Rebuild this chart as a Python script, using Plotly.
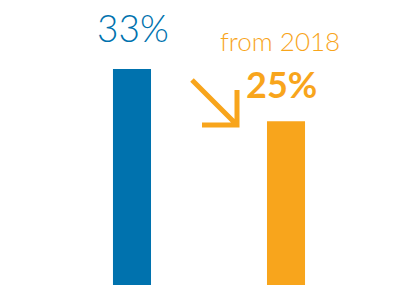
import plotly.graph_objects as go

categories = ["2018", "Now"]
values = [33, 25]
labels = ["33%", "25%"]
colors = ["#0072AE", "#F8A51C"]
note_text = "from 2018"

# page has 8px body margin; figure sized to fit window
OFF = 8
W, H = 412 - OFF, 285 - OFF
x_range = [-0.805, 1.818]
y_range = [0, 42.3]

def px_to_x(px):
    return x_range[0] + (px - OFF) / W * (x_range[1] - x_range[0])

def py_to_y(py):
    return y_range[1] - (py - OFF) / H * (y_range[1] - y_range[0])

fig = go.Figure()
fig.add_trace(go.Bar(
    x=[0, 1], y=values, marker=dict(color=colors, line=dict(width=0)),
    width=0.247, hoverinfo="skip",
))

fig.add_annotation(x=0, y=values[0], text=labels[0], showarrow=False,
                   yanchor="bottom", yshift=17, xshift=1,
                   font=dict(family="Lato", size=37, color=colors[0], weight=300))
fig.add_annotation(x=1, y=values[1], text="<b>" + labels[1] + "</b>", showarrow=False,
                   yanchor="bottom", yshift=13, xshift=-5,
                   font=dict(family="Lato", size=36, color=colors[1]))
fig.add_annotation(x=1, y=values[1], text=note_text, showarrow=False,
                   yanchor="bottom", yshift=62, xshift=-6,
                   font=dict(family="Lato", size=26, color=colors[1], weight=300))

# decorative arrow
path = (f"M {px_to_x(192)},{py_to_y(80)} L {px_to_x(236)},{py_to_y(124)} "
        f"M {px_to_x(202)},{py_to_y(125)} L {px_to_x(237)},{py_to_y(125)} L {px_to_x(237)},{py_to_y(90)}")
fig.add_shape(type="path", path=path, xref="x", yref="y",
              line=dict(color=colors[1], width=5))

fig.update_layout(
    width=W, height=H, margin=dict(l=0, r=0, t=0, b=0),
    paper_bgcolor="white", plot_bgcolor="white", showlegend=False,
    xaxis=dict(range=x_range, visible=False, fixedrange=True),
    yaxis=dict(range=y_range, visible=False, fixedrange=True),
)
fig.write_html("out.html", config={"displayModeBar": False})
